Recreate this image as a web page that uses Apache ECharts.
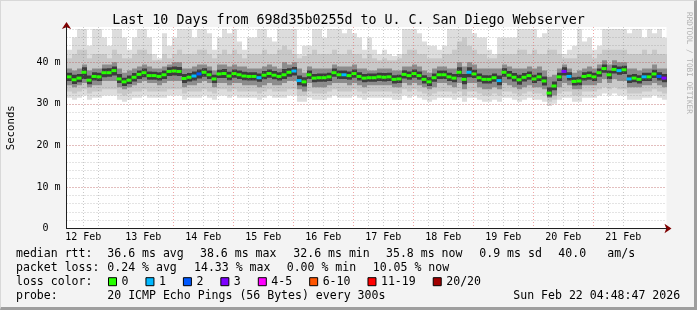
<!DOCTYPE html>
<html><head><meta charset="utf-8">
<script src="https://cdn.jsdelivr.net/npm/echarts@6/dist/echarts.min.js"></script>
<style>
html,body{margin:0;padding:0;background:#f3f3f3}
#wrap{position:relative;width:697px;height:310px}
#c{width:697px;height:310px}
#frame{position:absolute;left:0;top:0;width:697px;height:310px;box-sizing:border-box;border-top:1px solid #d8d8d8;border-left:1px solid #d8d8d8;border-right:3px solid #9e9e9e;border-bottom:3px solid #9e9e9e;pointer-events:none}
</style></head><body>
<div id="wrap"><div id="c"></div><div id="frame"></div></div>
<script>
// ---- time layout (hours since 12 Feb 00:00) ----
const START_HOUR = 5.3;      // left edge of graph
const END_HOUR = 245.3;      // right edge of graph
const STEP_HOURS = 2;        // one sample every 2 hours

// ---- tick labels ----
const dayLabels = ["12 Feb","13 Feb","14 Feb","15 Feb","16 Feb","17 Feb","18 Feb","19 Feb","20 Feb","21 Feb"];
const dayLabelHours = [12,36,60,84,108,132,156,180,204,228];
const midnightHours = [24,48,72,96,120,144,168,192,216,240];
const minorHours = [6,12,18,30,36,42,54,60,66,78,84,90,102,108,114,126,132,138,150,156,162,174,180,186,198,204,210,222,228,234];
const yTickLabels = ["0  ","10 m","20 m","30 m","40 m"];

// ---- median RTT (ms) per sample ----
const median = [
36.5,35.8,36.2,37.6,35.7,36.6,36.5,37.5,37.5,38.0,
36.0,35.3,35.7,36.4,37.1,37.5,36.8,36.8,36.6,37.0,
37.8,37.9,37.8,36.1,36.4,36.7,37.2,37.6,37.0,36.0,
37.2,37.3,36.7,37.3,37.0,36.7,36.6,36.6,36.3,36.9,
37.3,36.9,36.6,37.0,37.6,37.9,35.6,35.3,37.0,36.2,
36.3,36.3,36.5,37.5,37.0,37.0,36.8,37.3,36.6,36.2,
36.3,36.3,36.5,36.4,36.5,35.9,36.0,37.1,36.8,37.3,
36.8,35.9,35.3,36.3,37.0,37.0,36.5,36.2,37.6,35.9,
37.6,37.2,36.3,35.9,35.9,36.3,35.6,37.6,36.9,36.4,
35.8,36.4,36.8,36.0,36.5,35.5,32.6,34.3,36.5,37.8,
36.6,35.4,35.5,36.6,36.8,36.5,37.5,38.5,37.0,38.3,
38.0,38.2,36.0,36.2,35.9,36.5,36.5,37.2,36.6,36.2];

// ---- lost pings (of 20) per sample ----
const lostPings = [
0,0,0,0,0,0,0,0,0,0, 0,0,0,0,0,0,0,0,0,0, 0,0,0,0,0,1,2,0,0,0,
0,0,0,0,0,0,0,0,1,0, 0,0,0,0,0,1,1,0,0,0, 0,0,0,0,0,1,0,0,0,0,
0,0,0,0,0,0,0,0,0,0, 0,0,0,0,0,0,0,0,0,0, 1,0,0,0,0,0,1,0,0,0,
0,0,0,0,0,0,0,0,0,3, 1,0,0,0,0,0,0,0,0,0, 1,0,1,0,0,1,0,0,2,3];

// ---- smoke: outer (max ping) top ----
const smokeTop = [
43,46,48,48,44,48,48,46,44,48,48,46,43,46,48,48,46,42,41,47,44,46,48,48,48,46,48,48,47,43,
46,48,47,48,45,43,46,46,48,48,46,45,48,48,48,48,42,44,44,48,48,46,48,48,48,47,48,47,46,43,
46,43,42,43,42,41.5,42,48,48,48,47,45,44,44,43,44,48,48,48,48,48,47,46,46,43,42,46,46,46,46,
48,48,48,48,46,47,48,48,48,42,43,44,48,45,46,43,44,48,48,48,48,48,47,48,48,46,48,47,48,46];
// ---- smoke: middle band top ----
const smokeUpper = [
41,42,43,43,41,42,42,42,41,43,42,41,41,42,43,43,42,40.5,40.5,42,41,42,43,42,42,42,43,43,42,41,
42,43,42,43,42,41,42,42,42,43,42,42,43,44,43,42,41,41.5,42,43,42,42,42,43,42,42,43,42,42,41,
42,41,40.5,41,40.5,40.5,41,42,43,43,42,42,41,41,41,42,42,43,45,46,44,43,42,42,41,41,42,42,42,42,
43,43,42,43,42,42,43,43,42,41,41,41,42,42,42,41,42,43,43,43,43,43,42,42,42,43,42,43,42,42];
// ---- smoke: grey core top ----
const coreTop = [
38.5,38,38.5,39.5,38,38.5,38.5,39.5,39.5,40,38.5,37.5,38,38.5,39,39.5,39,38.5,38.5,39,39.5,40,40,38.5,38.5,39,39.5,39.5,39,38,
39.5,39.5,39,39.5,39,39,38.5,38.5,38.5,39,39.5,39,38.5,40,39.5,40,38.5,37.5,39,38.5,38.5,38.5,38.5,39.5,39,39,39,39.5,38.5,38.5,
38,38,38.5,38.5,38.5,38,38,39,39,39.5,39,38,37.5,38.5,39,39,38.5,38.5,40,39,40,39.5,38.5,38.5,38.5,38.5,38.5,39.5,39,38.5,
38.5,38.5,39,38.5,39,38,36.5,37,38.5,39.5,38.5,37.5,38,38.5,39,38.5,39.5,40.5,39.5,40.5,40,40,38.5,38.5,38,38.5,38.5,39.5,38.5,38.5];
// ---- smoke: dark inner top ----
const innerTop = [
37.5,37,37.2,38.8,36.8,37.6,37.5,38.5,38.6,39,37.2,36.3,36.8,37.4,38,38.5,37.8,37.7,37.6,38,38.8,39,38.9,37.2,37.4,37.8,38.3,38.6,38,37,
38.2,38.4,37.7,38.3,38,37.7,37.6,37.6,37.3,37.9,38.3,37.9,37.6,38.4,38.6,38.9,36.8,36.4,38,37.2,37.3,37.3,37.5,38.5,38,38,37.8,38.3,37.6,37.2,
37.3,37.3,37.5,37.4,37.5,36.9,37,38.1,37.8,38.3,37.8,36.9,36.4,37.3,38,38,37.5,37.2,38.8,37.2,38.8,38.2,37.3,36.9,36.9,37.3,36.8,38.6,37.9,37.4,
37,37.4,37.8,37,37.5,36.6,34,35.4,37.5,38.8,37.6,36.4,36.5,37.6,37.8,37.5,38.5,39.5,38,39.3,39,39.2,37,37.2,36.9,37.5,37.5,38.2,37.6,37.2];
// ---- smoke: dark inner bottom ----
const innerBottom = [
35.5,34.8,35.2,36,34.7,35.6,35.5,36.4,36.5,36.8,35,34.3,34.8,35.4,36,36.4,35.8,35.8,35.6,36,36.7,36.8,36.7,35,35.4,35.6,36.1,36.5,36,35,
36.2,36.2,35.7,36.3,36,35.7,35.6,35.6,35.3,35.9,36.3,35.9,35.6,36,36.5,36.8,34.5,34.2,36,35.2,35.3,35.3,35.5,36.5,36,36,35.8,36.3,35.6,35.2,
35.3,35.3,35.5,35.4,35.5,34.9,35,36.1,35.8,36.3,35.8,34.9,34.3,35.3,36,36,35.5,35.2,36.4,34.7,36.4,36.2,35.3,34.9,34.9,35.3,34.5,36.5,35.9,35.4,
34.6,35.4,35.8,35,35.5,34.4,31.8,33.3,35.5,36.8,35.6,34.4,34.5,35.6,35.8,35.5,36.5,37.5,36,37.3,37,37.2,35,35.2,34.9,35.5,35.5,36.2,35.6,35.2];
// ---- smoke: grey core bottom ----
const coreBottom = [
34.5,34,34.5,35,34,34.5,34.5,35.5,35.5,35.5,34,33.5,34,34.5,35,35.5,35,35,34.5,35,35.5,35.5,35.5,34,34.5,34.5,35,35.5,35,34,
35,35,34.5,35,35,34.5,34.5,34.5,34,34.5,35,34.5,34.5,35,35.5,35.5,33.5,33,35,34,34,34,34.5,35,35,35,34.5,35,34.5,34,
34.5,34.5,34.5,34.5,34.5,34,34,35,34.5,35,34.5,34,33.5,34,35,35,34.5,34,35,33.5,35,35,34,33.5,33.5,34,33.5,35,34.5,34,
33.5,34,34.5,34,34,33.5,31.5,32,34,35,34.5,33.5,33.5,34.5,34.5,34.5,35,36,35,36,35.5,35.5,34,34,34,34.5,34.5,35,34.5,34];
// ---- smoke: middle band bottom ----
const smokeLower = [
33,32.5,33,33.5,32.5,33,33,33.5,33.5,33.5,32.5,32,32.5,33,33,33.5,33,33,33,33,33.5,33.5,33.5,32.5,33,33,33,33.5,33,32.5,
33.5,33.5,33,33.5,33,33,33,33,32.5,33,33.5,33,33,33,33.5,33.5,32,32,33,32.5,32.5,32.5,33,33.5,33,33,33,33.5,33,32.5,
33,33,33,33,33,32.5,32.5,33.5,33,33.5,33,32.5,32,32.5,33,33,33,32.5,33,32,33,33,32.5,32,32,32.5,32,33,33,32.5,
32,32.5,33,32.5,32.5,32,30.5,31,32.5,33,33,32,32,33,33,33,33.5,34,33.5,34,33.5,33.5,32.5,32.5,32.5,33,33,33.5,33,32.5];
// ---- smoke: outer (min ping) bottom ----
const smokeBottom = [
31.5,31,31.5,32,31,31.5,31.5,32,32,32,31,30.5,31,31.5,31.5,32,31.5,31.5,31.5,31.5,32,32,32,31,31.5,31.5,31.5,32,31.5,31,
32,32,31.5,32,31.5,31.5,31.5,31.5,31,31.5,32,31.5,31.5,31.5,32,32,30.5,30.5,31.5,31,31,31,31.5,32,31.5,31.5,31.5,32,31.5,31,
31.5,31.5,31.5,31.5,31.5,31,31,32,31.5,32,31.5,31,30.5,31,31.5,31.5,31.5,31,31.5,30.5,31.5,31.5,31,30.5,30.5,31,30.5,31.5,31.5,31,
30.5,31,31.5,31,31,30.5,29.5,30,31,31.5,31.5,30.5,30.5,31.5,31.5,31.5,32,32.5,32,32.5,32,32,31,31,31,31.5,31.5,32,31.5,31];

// ---- loss colour buckets ----
const lossNames = ["0","1","2","3","4-5","6-10","11-19","20/20"];
const lossColors = ["#26ff00","#00b8ff","#0059ff","#7e00ff","#ff00ff","#ff5500","#ff0000","#a10000"];
const lossUpper = [0,1,2,3,5,10,19,20];

const FONT = '"DejaVu Sans Mono", monospace';
function hourOf(i){ return START_HOUR + STEP_HOURS * i + STEP_HOURS / 2; }
function bucketOf(n){ for (let b = 0; b < lossUpper.length; b++) if (n <= lossUpper[b]) return b; return lossUpper.length - 1; }

function bandSeries(name, lo, hi, color){
  return {
    name: name, type: 'custom', xAxisIndex: 0, yAxisIndex: 0, clip: true, z: 2,
    data: lo.map((v, i) => [hourOf(i), v, hi[i]]),
    encode: {x: 0, y: [1, 2]},
    renderItem: function(params, api){
      const t = api.value(0);
      const p1 = api.coord([t - STEP_HOURS/2, api.value(2)]);
      const p2 = api.coord([t + STEP_HOURS/2, api.value(1)]);
      const x1 = Math.round(p1[0]), x2 = Math.round(p2[0]);
      return {type: 'rect', shape: {x: x1, y: p1[1], width: x2 - x1, height: p2[1] - p1[1]}, style: {fill: color}};
    }
  };
}

const series = [
  bandSeries('smoke outer', smokeBottom, smokeTop, '#dddddd'),
  bandSeries('smoke middle', smokeLower, smokeUpper, '#c8c8c8'),
  bandSeries('smoke core', coreBottom, coreTop, '#8c8c8c'),
  bandSeries('smoke inner', innerBottom, innerTop, '#3c3c3c')
];
lossNames.forEach((nm, b) => {
  const pts = [];
  median.forEach((v, i) => { if (bucketOf(lostPings[i]) === b) pts.push([hourOf(i), v]); });
  series.push({
    name: nm, type: 'scatter', xAxisIndex: 0, yAxisIndex: 0, z: 4,
    symbol: 'rect', symbolSize: [5, 3], data: pts,
    itemStyle: {color: lossColors[b], opacity: 1}, emphasis: {disabled: true}
  });
});

const majorGrid = {show: true, lineStyle: {color: 'rgba(222,60,60,0.45)', type: [1, 2], width: 1}, showMinLine: false, showMaxLine: false};
const minorGrid = {show: true, lineStyle: {color: 'rgba(120,120,120,0.4)', type: [1, 2], width: 1}, showMinLine: false, showMaxLine: false};

const chart = echarts.init(document.getElementById('c'), null, {renderer: 'canvas'});
chart.setOption({
  animation: false,
  backgroundColor: '#f3f3f3',
  textStyle: {fontFamily: FONT},
  title: {
    text: 'Last 10 Days from 698d35b0255d to U. C. San Diego Webserver',
    left: 'center', top: 9,
    textStyle: {fontFamily: FONT, fontSize: 13.3, fontWeight: 'normal', color: '#000'}
  },
  grid: {left: 66.5, right: 30.5, top: 27, bottom: 81.5, show: true, backgroundColor: '#ffffff', borderWidth: 0,
    containLabel: false, outerBoundsMode: 'none'},
  legend: {
    data: lossNames, left: 108, top: 275.7, orient: 'horizontal', padding: 0,
    icon: 'rect', itemWidth: 8, itemHeight: 8, itemGap: 17, selectedMode: false,
    itemStyle: {borderColor: '#000', borderWidth: 1},
    textStyle: {fontFamily: FONT, fontSize: 11.55, color: '#000', lineHeight: 12}
  },
  xAxis: [
    { type: 'value', position: 'bottom', min: START_HOUR, max: END_HOUR, z: 5,
      axisLine: {show: true, onZero: false, lineStyle: {color: '#202020', width: 1}},
      axisTick: {show: false, customValues: midnightHours},
      splitLine: majorGrid,
      axisLabel: {show: true, customValues: dayLabelHours, margin: 4, fontFamily: FONT, fontSize: 10, color: '#000',
        formatter: v => dayLabels[dayLabelHours.indexOf(v)] || ''} },
    { type: 'value', position: 'bottom', min: START_HOUR, max: END_HOUR, z: 4,
      axisLine: {show: false}, axisTick: {show: false, customValues: minorHours},
      splitLine: minorGrid, axisLabel: {show: false} },
    { type: 'value', position: 'bottom', min: START_HOUR, max: END_HOUR, z: 1,
      axisLine: {show: true, onZero: false, symbol: ['none', 'arrow'], symbolSize: [7, 7], symbolOffset: [0, 5], lineStyle: {color: '#7f0000'}},
      axisTick: {show: false}, splitLine: {show: false}, axisLabel: {show: false} }
  ],
  yAxis: [
    { type: 'value', position: 'left', min: 0, max: 48.5, interval: 10, z: 5,
      name: 'Seconds', nameLocation: 'middle', nameRotate: 90, nameGap: 50,
      nameTextStyle: {fontFamily: FONT, fontSize: 10.7, color: '#000'},
      axisLine: {show: true, onZero: false, lineStyle: {color: '#202020', width: 1}},
      axisTick: {show: false}, splitLine: majorGrid,
      axisLabel: {margin: 6, fontFamily: FONT, fontSize: 10, color: '#000', showMaxLabel: false,
        formatter: v => (v % 10 === 0 ? (yTickLabels[v / 10] || '') : '')} },
    { type: 'value', position: 'left', min: 0, max: 48.5, interval: 2, z: 4,
      axisLine: {show: false}, axisTick: {show: false}, axisLabel: {show: false}, splitLine: minorGrid },
    { type: 'value', position: 'left', min: 0, max: 48.5, z: 1,
      axisLine: {show: true, onZero: false, symbol: ['none', 'arrow'], symbolSize: [7, 7], symbolOffset: [0, 5], lineStyle: {color: '#7f0000'}},
      axisTick: {show: false}, splitLine: {show: false}, axisLabel: {show: false} }
  ],
  graphic: [
    {type: 'text', x: 16, y: 253.5, style: {text: 'median rtt:', font: '11.55px ' + FONT, fill: '#000', verticalAlign: 'middle'}},
    {type: 'text', x: 107.3, y: 253.5, style: {text: '36.6 ms avg', font: '11.55px ' + FONT, fill: '#000', verticalAlign: 'middle'}},
    {type: 'text', x: 200, y: 253.5, style: {text: '38.6 ms max', font: '11.55px ' + FONT, fill: '#000', verticalAlign: 'middle'}},
    {type: 'text', x: 293.3, y: 253.5, style: {text: '32.6 ms min', font: '11.55px ' + FONT, fill: '#000', verticalAlign: 'middle'}},
    {type: 'text', x: 386, y: 253.5, style: {text: '35.8 ms now', font: '11.55px ' + FONT, fill: '#000', verticalAlign: 'middle'}},
    {type: 'text', x: 479.3, y: 253.5, style: {text: '0.9 ms sd', font: '11.55px ' + FONT, fill: '#000', verticalAlign: 'middle'}},
    {type: 'text', x: 558.3, y: 253.5, style: {text: '40.0', font: '11.55px ' + FONT, fill: '#000', verticalAlign: 'middle'}},
    {type: 'text', x: 607.3, y: 253.5, style: {text: 'am/s', font: '11.55px ' + FONT, fill: '#000', verticalAlign: 'middle'}},
    {type: 'text', x: 16, y: 267.8, style: {text: 'packet loss:', font: '11.55px ' + FONT, fill: '#000', verticalAlign: 'middle'}},
    {type: 'text', x: 107.3, y: 267.8, style: {text: '0.24 % avg', font: '11.55px ' + FONT, fill: '#000', verticalAlign: 'middle'}},
    {type: 'text', x: 194, y: 267.8, style: {text: '14.33 % max', font: '11.55px ' + FONT, fill: '#000', verticalAlign: 'middle'}},
    {type: 'text', x: 286.7, y: 267.8, style: {text: '0.00 % min', font: '11.55px ' + FONT, fill: '#000', verticalAlign: 'middle'}},
    {type: 'text', x: 372.7, y: 267.8, style: {text: '10.05 % now', font: '11.55px ' + FONT, fill: '#000', verticalAlign: 'middle'}},
    {type: 'text', x: 16, y: 281.7, style: {text: 'loss color:', font: '11.55px ' + FONT, fill: '#000', verticalAlign: 'middle'}},
    {type: 'text', x: 16, y: 296, style: {text: 'probe:', font: '11.55px ' + FONT, fill: '#000', verticalAlign: 'middle'}},
    {type: 'text', x: 107.3, y: 296, style: {text: '20 ICMP Echo Pings (56 Bytes) every 300s', font: '11.55px ' + FONT, fill: '#000', verticalAlign: 'middle'}},
    {type: 'text', x: 513.3, y: 296, style: {text: 'Sun Feb 22 04:48:47 2026', font: '11.55px ' + FONT, fill: '#000', verticalAlign: 'middle'}},
    {type: 'text', x: 688.5, y: 12, rotation: -Math.PI / 2, style: {text: 'RRDTOOL / TOBI OETIKER', font: '7.7px ' + FONT, fill: '#b0b0b0', verticalAlign: 'middle', align: 'left'}}
  ],
  series: series
});
</script></body></html>
